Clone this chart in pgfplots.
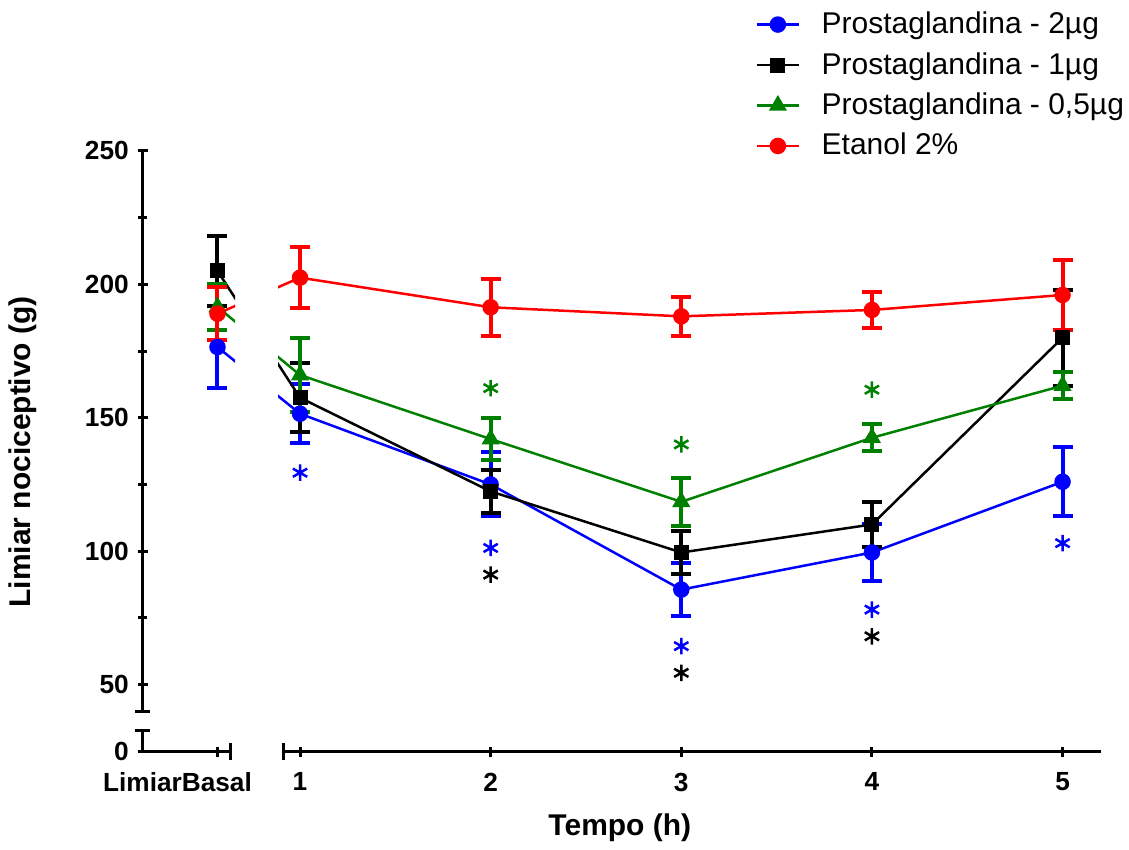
\documentclass[border=0pt]{standalone}
\usepackage{fontspec}
\setmainfont{Liberation Sans}
\usepackage{pgfplots}
\usepackage{pgfplotstable}
\pgfplotsset{compat=1.18}
\definecolor{pblue}{RGB}{0,0,255}
\definecolor{pgreen}{RGB}{0,128,0}
\definecolor{pred}{RGB}{255,0,0}

% mean and SEM per time point (basal at 0.567)
\pgfplotstableread{
x y e
0.567 176.5 15.5
1 151.5 11
2 125 12
3 85.6 10
4 99.5 10.5
5 126 13
}\tblue
\pgfplotstableread{
x y e
0.567 205 13
1 157.5 13
2 122.4 8
3 99.5 8
4 110 8.5
5 180 18
}\tblack
\pgfplotstableread{
x y e
0.567 191.5 8.5
1 166 13.7
2 142 8
3 118.5 9
4 142.5 5
5 162 5
}\tgreen
\pgfplotstableread{
x y e
0.567 189 10
1 202.5 11.5
2 191.4 10.6
3 188 7.4
4 190.4 6.6
5 196 13
}\tred
% significance stars
\pgfplotstableread{
x y
1 129.4
2 101.2
3 64.4
4 78.1
5 103
}\sblue
\pgfplotstableread{
x y
2 91.2
3 54.4
4 68.1
}\sblack
\pgfplotstableread{
x y
2 161.1
3 140
4 160.5
}\sgreen

\pgfplotsset{
  prism/.style={
    x=76.3pt, y=1.068pt,
    enlargelimits=false,
    tick align=outside,
    major tick length=4pt,
    minor tick length=3.5pt,
    every tick/.style={black, line width=1.2pt},
    tick label style={font=\bfseries\fontsize{10.5}{12.5}\selectfont},
    /pgf/number format/assume math mode=true,
  },
  noarrow/.style={
    axis line style={-, line width=1.2pt},
    x axis line style={-}, y axis line style={-},
    every inner x axis line/.append style={-},
    every inner y axis line/.append style={-},
    every outer x axis line/.append style={-},
    every outer y axis line/.append style={-},
  },
  series/.style={line width=1pt,
    error bars/.cd, y dir=both, y explicit,
    error bar style={line width=1.6pt},
    error mark options={rotate=90, mark size=4pt, line width=1.6pt}},
}

\newcommand{\plotall}{%
  \addplot[pblue, mark=*, mark size=2.8pt, series] table[x=x, y=y, y error=e] {\tblue};
  \addplot[black, mark=square*, mark size=2.5pt, series] table[x=x, y=y, y error=e] {\tblack};
  \addplot[pgreen, mark=triangle*, mark size=3.2pt, series] table[x=x, y=y, y error=e] {\tgreen};
  \addplot[pred, mark=*, mark size=2.8pt, series] table[x=x, y=y, y error=e] {\tred};
}

\begin{document}
\begin{tikzpicture}
\path (-43.7pt,-38.4pt) rectangle (408pt,300.8pt);

% upper left: basal, y axis
\begin{axis}[prism,
  at={(13.28pt,16.12pt)}, anchor=south west,
  xmin=0.174, xmax=0.659, ymin=40, ymax=250,
  axis x line=none, axis y line=left, noarrow,
  xtick=\empty,
  ytick={50,100,150,200,250},
  minor ytick={75,125,175,225},
  extra y ticks={40}, extra y tick labels={},
  extra y tick style={tick align=center, major tick length=6pt},
  ylabel={Limiar nociceptivo (g)},
  ylabel style={at={(axis description cs:-1.30,0.463)}, anchor=center,
    font=\bfseries\fontsize{12}{14}\selectfont},
]
\plotall
\end{axis}

% upper right: time course
\begin{axis}[prism,
  at={(67.53pt,16.12pt)}, anchor=south west,
  xmin=0.885, xmax=5.204, ymin=40, ymax=250,
  axis x line=none, axis y line=none,
  xtick=\empty, ytick=\empty,
  legend style={at={(rel axis cs:0.579,1.258)}, anchor=north west,
    draw=none, fill=none, inner sep=0pt, column sep=6.5pt,
    font=\fontsize{12}{14}\selectfont, row sep=2pt},
  legend cell align=left,
]
\plotall
\addplot[pblue, only marks, mark=asterisk, mark size=3.3pt, line width=1pt, forget plot] table {\sblue};
\addplot[black, only marks, mark=asterisk, mark size=3.3pt, line width=1pt, forget plot] table {\sblack};
\addplot[pgreen, only marks, mark=asterisk, mark size=3.3pt, line width=1pt, forget plot] table {\sgreen};
\legend{{Prostaglandina - 2µg}, {Prostaglandina - 1µg}, {Prostaglandina - 0,5µg}, {Etanol 2\%}}
\end{axis}

% lower left: zero, basal tick
\begin{axis}[prism,
  at={(13.28pt,0pt)}, anchor=south west,
  xmin=0.174, xmax=0.633, ymin=0, ymax=8,
  axis x line=bottom, axis y line=left, noarrow,
  xtick={0.567}, xticklabels={LimiarBasal},
  xticklabel style={xshift=-16pt, yshift=-3pt},
  ytick={0},
  extra x ticks={0.633}, extra x tick labels={},
  extra x tick style={tick align=center, major tick length=7pt},
  extra y ticks={8}, extra y tick labels={},
  extra y tick style={tick align=center, major tick length=6pt},
]
\end{axis}

% lower right: hours
\begin{axis}[prism,
  at={(69.51pt,0pt)}, anchor=south west,
  xmin=0.911, xmax=5.204, ymin=0, ymax=8,
  axis x line=bottom, axis y line=none, noarrow,
  xtick={1,2,3,4,5}, ytick=\empty,
  xticklabel style={yshift=-3pt},
  extra x ticks={0.911}, extra x tick labels={},
  extra x tick style={tick align=center, major tick length=7pt},
  xlabel={Tempo (h)},
  xlabel style={at={(axis description cs:0.4115,-3.55)}, anchor=center,
    font=\bfseries\fontsize{12}{14}\selectfont},
]
\end{axis}
\end{tikzpicture}
\end{document}
